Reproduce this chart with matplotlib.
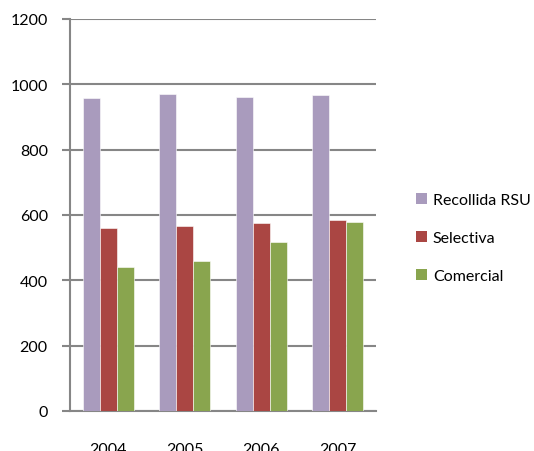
import numpy as np
import matplotlib.pyplot as plt
from matplotlib.patches import Patch

# Données
annees = ["2004", "2005", "2006", "2007"]
recollida_rsu = [958, 971, 961, 966]
selectiva = [560, 566, 575, 585]
comercial = [441, 458, 517, 579]

series = [("Recollida RSU", recollida_rsu, "#A99BBD"),
          ("Selectiva", selectiva, "#AA4643"),
          ("Comercial", comercial, "#89A54E")]

plt.rcParams['font.family'] = ['Lato', 'DejaVu Sans']

fig = plt.figure(figsize=(5.34, 4.52), dpi=100)
ax = fig.add_axes([70 / 534, 40 / 452, 306 / 534, 392 / 452])

x = np.arange(len(annees))
largeur = 0.222
for i, (nom, vals, coul) in enumerate(series):
    ax.bar(x + (i - 1) * largeur, vals, width=largeur, color=coul,
           edgecolor="white", linewidth=0.4, label=nom, zorder=3)

ax.set_xlim(-0.5, len(annees) - 0.5)
ax.set_ylim(0, 1200)
ax.set_yticks(range(0, 1201, 200))
ax.set_xticks(x)
ax.set_xticklabels(annees)

gris = "#868686"
ax.yaxis.grid(True, color=gris, linewidth=1.5, zorder=0)
for s in ["top", "right"]:
    ax.spines[s].set_visible(False)
for s in ["left", "bottom"]:
    ax.spines[s].set_color(gris)
    ax.spines[s].set_linewidth(1.5)

ax.tick_params(axis="y", length=6, width=1.5, color=gris, pad=10, labelsize=11.5)
ax.tick_params(axis="x", length=0, pad=22, labelsize=11.5)

poignees = [Patch(facecolor=c, label=n) for n, _, c in series]
fig.legend(handles=poignees, loc="center left", bbox_to_anchor=(416 / 534, (452 - 239) / 452),
           frameon=False, fontsize=11.5, handlelength=0.7, handleheight=0.7,
           handletextpad=0.35, labelspacing=1.5, borderpad=0, borderaxespad=0)

fig.savefig("out.png", dpi=100)
